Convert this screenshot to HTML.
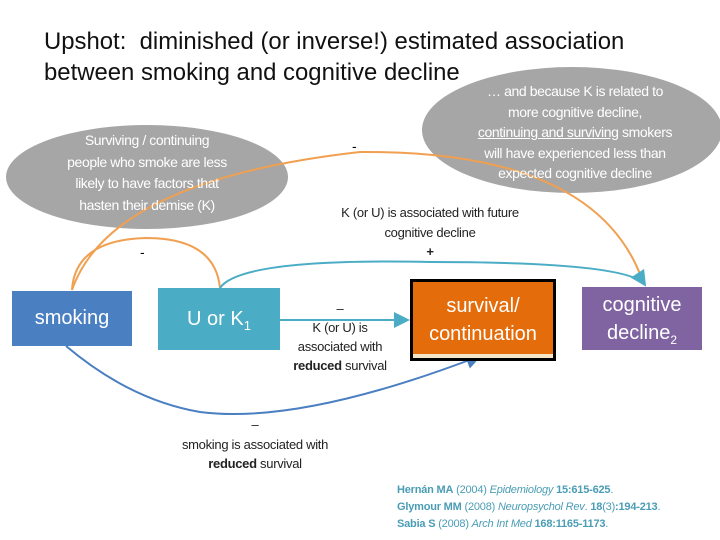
<!DOCTYPE html>
<html><head><meta charset="utf-8"><style>
body{margin:0;width:720px;height:540px;background:#fff;position:relative;overflow:hidden;font-family:"Liberation Sans",sans-serif}
.a{position:absolute}
.t{text-align:center;color:#222;white-space:nowrap}
</style></head><body>
<div class="a" style="left:44px;top:26px;font-size:23.9px;line-height:31px;color:#111;white-space:nowrap">Upshot:&nbsp; diminished (or inverse!) estimated association<br>between smoking and cognitive decline</div>
<svg class="a" style="left:0;top:0" width="720" height="540">
<defs>
<marker id="mt" markerWidth="8" markerHeight="8" refX="7" refY="4" orient="auto"><path d="M0,0L8,4L0,8z" fill="#4bacc6"/></marker>
<marker id="mb" markerWidth="8" markerHeight="8" refX="7" refY="4" orient="auto"><path d="M0,0L8,4L0,8z" fill="#4a7fc1"/></marker>
</defs>
<ellipse cx="147" cy="177" rx="141" ry="52" fill="#a6a6a6"/>
<ellipse cx="572" cy="130" rx="150" ry="63" fill="#a6a6a6"/>
<path d="M72,290 Q75,240 146,238 Q215,238 220,288" fill="none" stroke="#f0a050" stroke-width="2"/>
<path d="M72,290 Q110,180 360,152 Q600,150 644,285" fill="none" stroke="#f0a050" stroke-width="2"/>
<path d="M220,288 Q240,258 430,262 Q630,262 645,285" fill="none" stroke="#4bacc6" stroke-width="2" marker-end="url(#mt)"/>
<line x1="280" y1="320" x2="408" y2="320" stroke="#4bacc6" stroke-width="2" marker-end="url(#mt)"/>
<path d="M66,346 Q130,400 200,412 Q300,425 480,356" fill="none" stroke="#4a7fc1" stroke-width="2" marker-end="url(#mb)"/>
</svg>
<div class="a t" style="left:30px;top:130px;width:234px;font-size:14px;line-height:21.5px;color:#fff;letter-spacing:-0.4px">Surviving / continuing<br>people who smoke are less<br>likely to have factors that<br>hasten their demise (K)</div>
<div class="a t" style="left:430px;top:81px;width:290px;font-size:14px;line-height:20.5px;color:#fff;letter-spacing:-0.4px">… and because K is related to<br>more cognitive decline,<br><u>continuing and surviving</u> smokers<br>will have experienced less than<br>expected cognitive decline</div>
<div class="a" style="left:352px;top:138px;font-size:14px">-</div>
<div class="a" style="left:140px;top:244px;font-size:14px">-</div>
<div class="a t" style="left:300px;top:203px;width:260px;font-size:13px;line-height:19.5px;letter-spacing:-0.3px">K (or U) is associated with future<br>cognitive decline<br><b>+</b></div>
<div class="a" style="left:12px;top:291px;width:120px;height:55px;background:#4a7fc1;color:#fff;font-size:20px;line-height:55px;text-align:center">smoking</div>
<div class="a" style="left:158px;top:288px;width:122px;height:62px;background:#4bacc6;color:#fff;font-size:20px;line-height:62px;text-align:center">U or K<sub style="font-size:13px">1</sub></div>
<div class="a" style="left:410px;top:279px;width:140px;height:76px;background:#e46c0a;border:3px solid #000;color:#fff;font-size:20px;line-height:28px;text-align:center;box-sizing:content-box"><div style="padding-top:10px">survival/<br>continuation</div><div style="position:absolute;left:0;right:0;bottom:0;height:4px;background:#f5e6c8"></div></div>
<div class="a" style="left:582px;top:287px;width:120px;height:63px;background:#8064a2;color:#fff;font-size:20px;line-height:28px;text-align:center"><div style="padding-top:4px">cognitive<br>decline<sub style="font-size:12px">2</sub></div></div>
<div class="a t" style="left:280px;top:299px;width:120px;font-size:13px;line-height:19px;letter-spacing:-0.3px">–<br>K (or U) is<br>associated with<br><b>reduced</b> survival</div>
<div class="a t" style="left:160px;top:415px;width:190px;font-size:13px;line-height:19.5px;letter-spacing:-0.3px">–<br>smoking is associated with<br><b>reduced</b> survival</div>
<div class="a" style="left:397px;top:482px;font-size:11px;line-height:17px;color:#4a9db5;white-space:nowrap;letter-spacing:-0.2px"><b>Hernán MA</b> (2004) <i>Epidemiology</i> <b>15:615-625</b>.<br><b>Glymour MM</b> (2008) <i>Neuropsychol Rev</i>. <b>18</b>(3)<b>:194-213</b>.<br><b>Sabia S</b> (2008) <i>Arch Int Med</i> <b>168:1165-1173</b>.</div>
</body></html>
